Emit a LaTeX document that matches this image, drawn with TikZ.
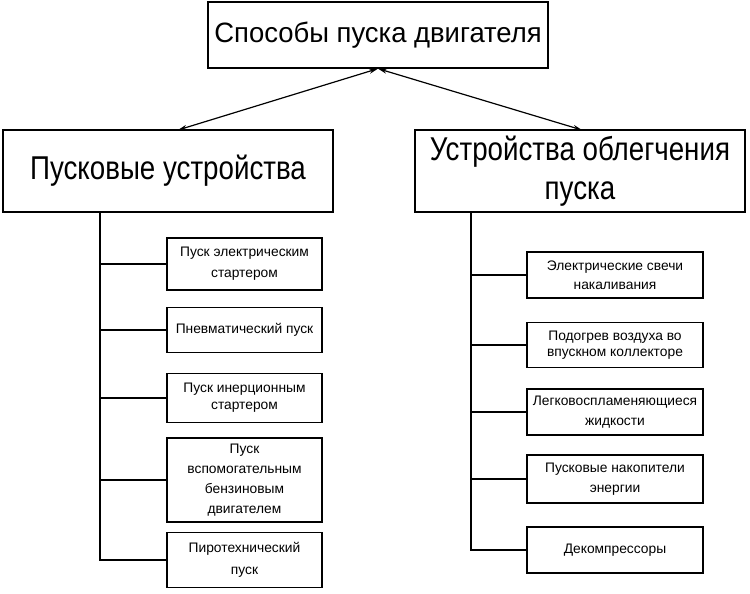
\documentclass[tikz,border=0pt]{standalone}
\usepackage{fontspec}
\setmainfont{Liberation Sans}
\newfontfamily\narrowfont{Liberation Sans}[FakeStretch=0.84]
\newfontfamily\topfont{Liberation Sans}[FakeStretch=0.98]
\usetikzlibrary{arrows.meta}
\begin{document}
\begin{tikzpicture}[x=1pt,y=-1pt,
  bigbox/.style={draw,line width=1.3pt,inner sep=0pt,align=center,font=\narrowfont\fontsize{33}{39}\selectfont},
  smallbox/.style={draw,line width=1.5pt,inner sep=0pt,align=center,font=\fontsize{13.8}{20}\selectfont},
  conn/.style={line width=1.6pt},
  arr/.style={line width=1.2pt,{Stealth[length=9pt,width=5pt]}-{Stealth[length=9pt,width=5pt]}}]
\useasboundingbox[fill=white] (0,0) rectangle (750,594);
\node[bigbox,minimum width=340pt,minimum height=66pt,font=\topfont\fontsize{28}{32}\selectfont] (top) at (378,35) {Способы пуска двигателя};
\node[bigbox,minimum width=330pt,minimum height=82pt] (left) at (168,171) {Пусковые устройства};
\node[bigbox,minimum width=330pt,minimum height=82pt] (right) at (580,171) {Устройства облегчения\\пуска};
\coordinate (la) at (178,130);
\coordinate (ra) at (582,130);
\draw[arr] (top.south) -- (la);
\draw[arr] (top.south) -- (ra);
\node[smallbox,minimum width=155pt,minimum height=52pt,font=\fontsize{13.8}{21}\selectfont] (L1) at (244.5,264) {Пуск электрическим\\стартером};
\node[smallbox,minimum width=155pt,minimum height=45pt] (L2) at (244.5,330) {Пневматический пуск};
\node[smallbox,minimum width=155pt,minimum height=49pt,font=\fontsize{13.8}{17}\selectfont] (L3) at (244.5,398) {Пуск инерционным\\стартером};
\node[smallbox,minimum width=155pt,minimum height=84pt] (L4) at (244.5,480) {Пуск\\вспомогательным\\бензиновым\\двигателем};
\node[smallbox,minimum width=155pt,minimum height=55pt,font=\fontsize{13.8}{22}\selectfont] (L5) at (244.5,560) {Пиротехнический\\пуск};
\node[smallbox,minimum width=176pt,minimum height=46pt,font=\fontsize{13.8}{19}\selectfont] (R1) at (615,275) {Электрические свечи\\накаливания};
\node[smallbox,minimum width=176pt,minimum height=45pt,font=\fontsize{13.8}{16}\selectfont] (R2) at (615,345) {Подогрев воздуха во\\впускном коллекторе};
\node[smallbox,minimum width=176pt,minimum height=46pt] (R3) at (615,412) {Легковоспламеняющиеся\\жидкости};
\node[smallbox,minimum width=176pt,minimum height=48pt] (R4) at (615,479) {Пусковые накопители\\энергии};
\node[smallbox,minimum width=176pt,minimum height=46pt] (R5) at (615,550) {Декомпрессоры};
\coordinate (ls) at (100,212);
\coordinate (rs) at (471,212);
\draw[conn] (ls) |- (L5.west);
\foreach \n in {L1,L2,L3,L4} \draw[conn] (\n.west -| ls) -- (\n.west);
\draw[conn] (rs) |- (R5.west);
\foreach \n in {R1,R2,R3,R4} \draw[conn] (\n.west -| rs) -- (\n.west);
\end{tikzpicture}
\end{document}
